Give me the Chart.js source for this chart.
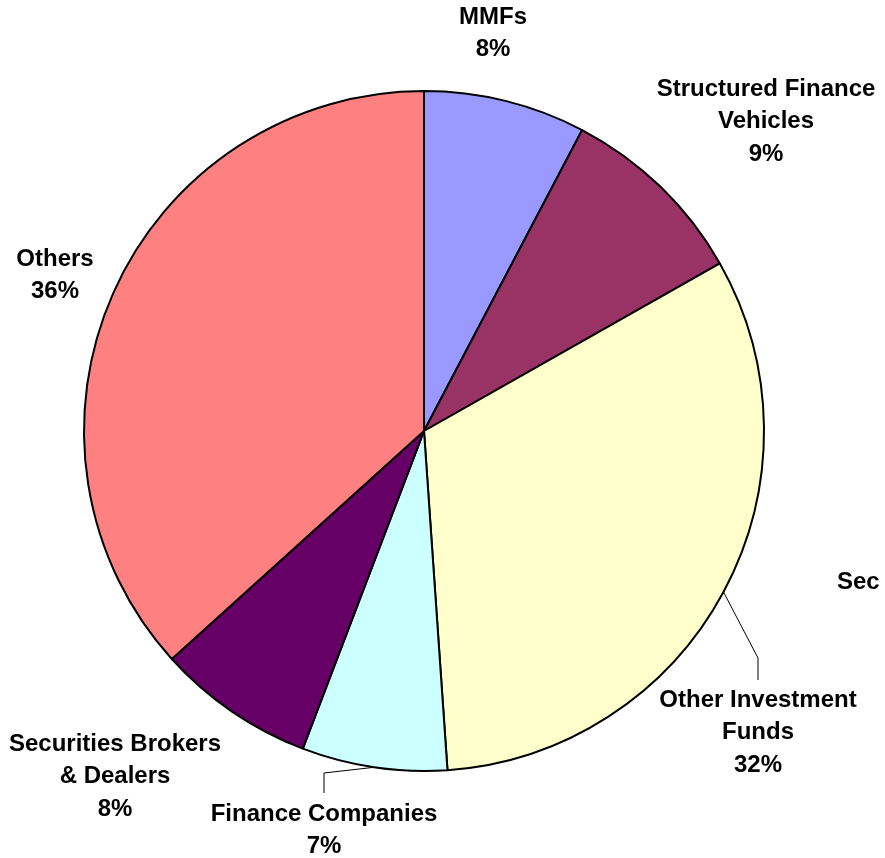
<!DOCTYPE html>
<html>
<head>
<meta charset="utf-8">
<script src="https://cdn.jsdelivr.net/npm/chart.js@4"></script>
<style>
    html, body { margin: 0; padding: 0; background: #fff; }
    canvas { display: block; }
</style>
</head>
<body>
<canvas id="sectorPie" width="885" height="858"></canvas>
<script>

const sectors = [
    "MMFs",
    "Structured Finance|Vehicles",
    "Other Investment|Funds",
    "Finance Companies",
    "Securities Brokers|& Dealers",
    "Others"
];

// slice sizes; printed labels are the rounded ones
const shares = [7.7, 9.1, 32.1, 6.9, 7.5, 36.7];
const shareLabels = ["8%", "9%", "32%", "7%", "8%", "36%"];

const colors = ["#9999FF", "#993366", "#FFFFCC", "#CCFFFF", "#660066", "#FF8080"];

// label block centre x and centre y of first line
const labelPos = [
    [493, 17],
    [766, 89],
    [758, 700],
    [324, 814],
    [115, 744],
    [55, 259]
];

// leader line knee per slice (null = no leader)
const leaders = [null, null, [758, 658, 680], [324, 773, 793], null, null];

const labelPlugin = {
    id: "excelLabels",
    afterDraw(chart) {
        const ctx = chart.ctx;
        const arcs = chart.getDatasetMeta(0).data;
        ctx.save();
        ctx.fillStyle = "#000";
        ctx.font = "bold 24px 'Liberation Sans', Arial, sans-serif";
        ctx.textAlign = "center";
        ctx.textBaseline = "middle";

        sectors.forEach((name, i) => {
            const lines = name.split("|").concat(shareLabels[i]);
            const [x, y] = labelPos[i];
            lines.forEach((line, k) => ctx.fillText(line, x, y + k * 32.5));

            const lead = leaders[i];
            if (lead) {
                const a = arcs[i];
                const mid = (a.startAngle + a.endAngle) / 2;
                const px = a.x + Math.cos(mid) * a.outerRadius;
                const py = a.y + Math.sin(mid) * a.outerRadius;
                ctx.beginPath();
                ctx.lineWidth = 1;
                ctx.strokeStyle = "#000";
                ctx.moveTo(px, py);
                ctx.lineTo(lead[0], lead[1]);
                ctx.lineTo(lead[0], lead[2]);
                ctx.stroke();
            }
        });

        // clipped title text at the right edge
        ctx.textAlign = "left";
        ctx.fillText("Sec", 837, 582);
        ctx.restore();
    }
};

new Chart(document.querySelector("#sectorPie"), {
    type: "pie",
    data: {
        labels: sectors.map(s => s.replace("|", " ")),
        datasets: [{
            data: shares,
            backgroundColor: colors,
            borderColor: "#000",
            borderWidth: 2
        }]
    },
    options: {
        responsive: false,
        animation: false,
        radius: 340,
        layout: { padding: { left: 0, right: 37, top: 4, bottom: 0 } },
        plugins: {
            legend: { display: false },
            tooltip: { enabled: false }
        }
    },
    plugins: [labelPlugin]
});

</script>
</body>
</html>
